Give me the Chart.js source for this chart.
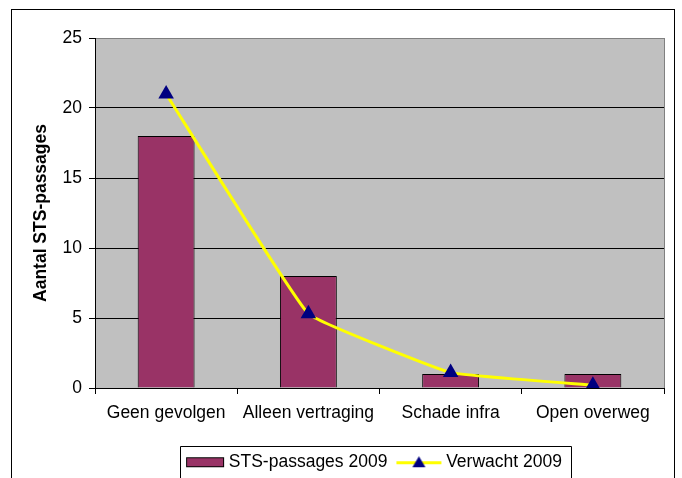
<!DOCTYPE html>
<html>
<head>
<meta charset="utf-8">
<script src="https://cdn.jsdelivr.net/npm/chart.js@4/dist/chart.umd.min.js"></script>
<style>
html,body{margin:0;padding:0;background:#fff;}
#wrap{width:682px;height:478px;position:relative;}
</style>
</head>
<body>
<div id="wrap"><canvas id="c" width="682" height="478"></canvas></div>
<script>
const categories = ["Geen gevolgen", "Alleen vertraging", "Schade infra", "Open overweg"];
const stsPassages2009 = [18, 8, 1, 1];
const verwacht2009 = [21, 5.3, 1.1, 0.2];
const yTicks = [0, 5, 10, 15, 20, 25];
const seriesNames = ["STS-passages 2009", "Verwacht 2009"];
const yTitle = "Aantal STS-passages";

const BAR_COLOR = '#993366';
const LINE_COLOR = '#FFFF00';
const MARK_COLOR = '#000080';
const PLOT_BG = '#C0C0C0';
const FS = 17.5;

Chart.defaults.font.family = '"Liberation Sans", Arial, sans-serif';
Chart.defaults.font.size = FS;
Chart.defaults.color = '#000';

function swatchBar() {
  const c = document.createElement('canvas');
  c.width = 60; c.height = 20;
  const g = c.getContext('2d');
  g.fillStyle = BAR_COLOR;
  g.fillRect(11, 5, 38, 9);
  g.strokeStyle = '#000';
  g.lineWidth = 1;
  g.strokeRect(11.5, 5.5, 37, 9);
  return c;
}
function swatchLine() {
  const c = document.createElement('canvas');
  c.width = 60; c.height = 20;
  const g = c.getContext('2d');
  g.strokeStyle = LINE_COLOR;
  g.lineWidth = 3;
  g.beginPath(); g.moveTo(4, 10.5); g.lineTo(49, 10.5); g.stroke();
  g.fillStyle = MARK_COLOR;
  g.beginPath(); g.moveTo(26.5, 4); g.lineTo(33, 15); g.lineTo(20, 15); g.closePath(); g.fill();
  return c;
}

const framePlugin = {
  id: 'frame',
  afterLayout(chart) {
    const lg = chart.legend;
    lg.left = 70; lg.right = 682;
    lg.top = 433.5;
  },
  beforeDraw(chart) {
    const {ctx, chartArea: a} = chart;
    ctx.save();
    ctx.fillStyle = '#fff';
    ctx.fillRect(0, 0, chart.width, chart.height);
    ctx.fillStyle = PLOT_BG;
    ctx.fillRect(a.left, a.top, a.right - a.left, a.bottom - a.top);
    ctx.strokeStyle = '#000';
    ctx.lineWidth = 1;
    ctx.strokeRect(11.5, 9.5, 663, 520);
    ctx.restore();
  },
  beforeDatasetsDraw(chart) {
    const {ctx, chartArea: a} = chart;
    ctx.save();
    ctx.strokeStyle = '#808080';
    ctx.lineWidth = 1;
    ctx.beginPath();
    ctx.moveTo(Math.round(a.right) + 0.5, a.top);
    ctx.lineTo(Math.round(a.right) + 0.5, a.bottom);
    ctx.stroke();
    ctx.restore();
  },
  afterDraw(chart) {
    const lg = chart.legend;
    const hb = lg.legendHitBoxes;
    if (!hb || !hb.length) return;
    const {ctx} = chart;
    const last = hb[hb.length - 1];
    const l = Math.round(hb[0].left - 10) + 0.5;
    const r = Math.round(last.left + last.width + 9) + 0.5;
    const t = Math.round(hb[0].top + hb[0].height / 2 - 16) + 0.5;
    ctx.save();
    ctx.strokeStyle = '#000';
    ctx.lineWidth = 1;
    ctx.beginPath();
    ctx.moveTo(l, chart.height + 5);
    ctx.lineTo(l, t);
    ctx.lineTo(r, t);
    ctx.lineTo(r, chart.height + 5);
    ctx.stroke();
    ctx.restore();
  }
};

new Chart(document.getElementById('c'), {
  type: 'bar',
  data: {
    labels: categories,
    datasets: [
      {
        type: 'bar',
        label: seriesNames[0],
        data: stsPassages2009,
        backgroundColor: BAR_COLOR,
        borderColor: '#000',
        borderWidth: 1,
        barPercentage: 0.4,
        categoryPercentage: 1,
        order: 1
      },
      {
        type: 'line',
        label: seriesNames[1],
        data: verwacht2009,
        borderColor: LINE_COLOR,
        borderWidth: 3,
        tension: 0.08,
        fill: false,
        pointStyle: 'triangle',
        pointRadius: 9,
        pointHoverRadius: 9,
        pointBackgroundColor: MARK_COLOR,
        pointBorderColor: MARK_COLOR,
        pointBorderWidth: 0,
        order: 0
      }
    ]
  },
  options: {
    responsive: false,
    animation: false,
    devicePixelRatio: 1,
    layout: { padding: { top: 38, right: 18, left: 0, bottom: 0 } },
    plugins: {
      tooltip: { enabled: false },
      title: { display: false },
      legend: {
        display: true,
        position: 'bottom',
        maxHeight: 30,
        labels: {
          usePointStyle: true,
          boxWidth: 30,
          pointStyleWidth: 30,
          padding: 20,
          font: { size: FS },
          color: '#000',
          generateLabels(chart) {
            return [
              { text: seriesNames[0], pointStyle: swatchBar(), fillStyle: BAR_COLOR, strokeStyle: '#000', lineWidth: 1, datasetIndex: 0, hidden: false, fontColor: '#000' },
              { text: seriesNames[1], pointStyle: swatchLine(), fillStyle: MARK_COLOR, strokeStyle: LINE_COLOR, lineWidth: 1, datasetIndex: 1, hidden: false, fontColor: '#000' }
            ];
          }
        }
      }
    },
    scales: {
      x: {
        offset: true,
        grid: {
          display: true,
          offset: true,
          drawOnChartArea: false,
          drawTicks: true,
          tickLength: 6,
          tickColor: '#000',
          color: '#000'
        },
        border: { display: true, color: '#000', width: 1 },
        ticks: { padding: 9, font: { size: FS }, color: '#000', maxRotation: 0, autoSkip: false },
        afterFit(scale) { scale.height = 60; }
      },
      y: {
        min: yTicks[0],
        max: yTicks[yTicks.length - 1],
        afterBuildTicks(scale) { scale.ticks = yTicks.map(v => ({ value: v })); },
        grid: {
          color: (c) => (c.tick && c.tick.value === yTicks[yTicks.length - 1]) ? '#808080' : '#000',
          tickColor: '#000',
          tickLength: 6,
          drawTicks: true,
          lineWidth: 1
        },
        border: { display: true, color: '#000', width: 1 },
        ticks: { padding: 7, font: { size: FS }, color: '#000' },
        title: {
          display: true,
          text: yTitle,
          font: { size: FS, weight: 'bold' },
          color: '#000',
          padding: { top: 31, bottom: 0 }
        },
        afterFit(scale) { scale.width = 95; }
      }
    }
  },
  plugins: [framePlugin]
});
</script>
</body>
</html>
